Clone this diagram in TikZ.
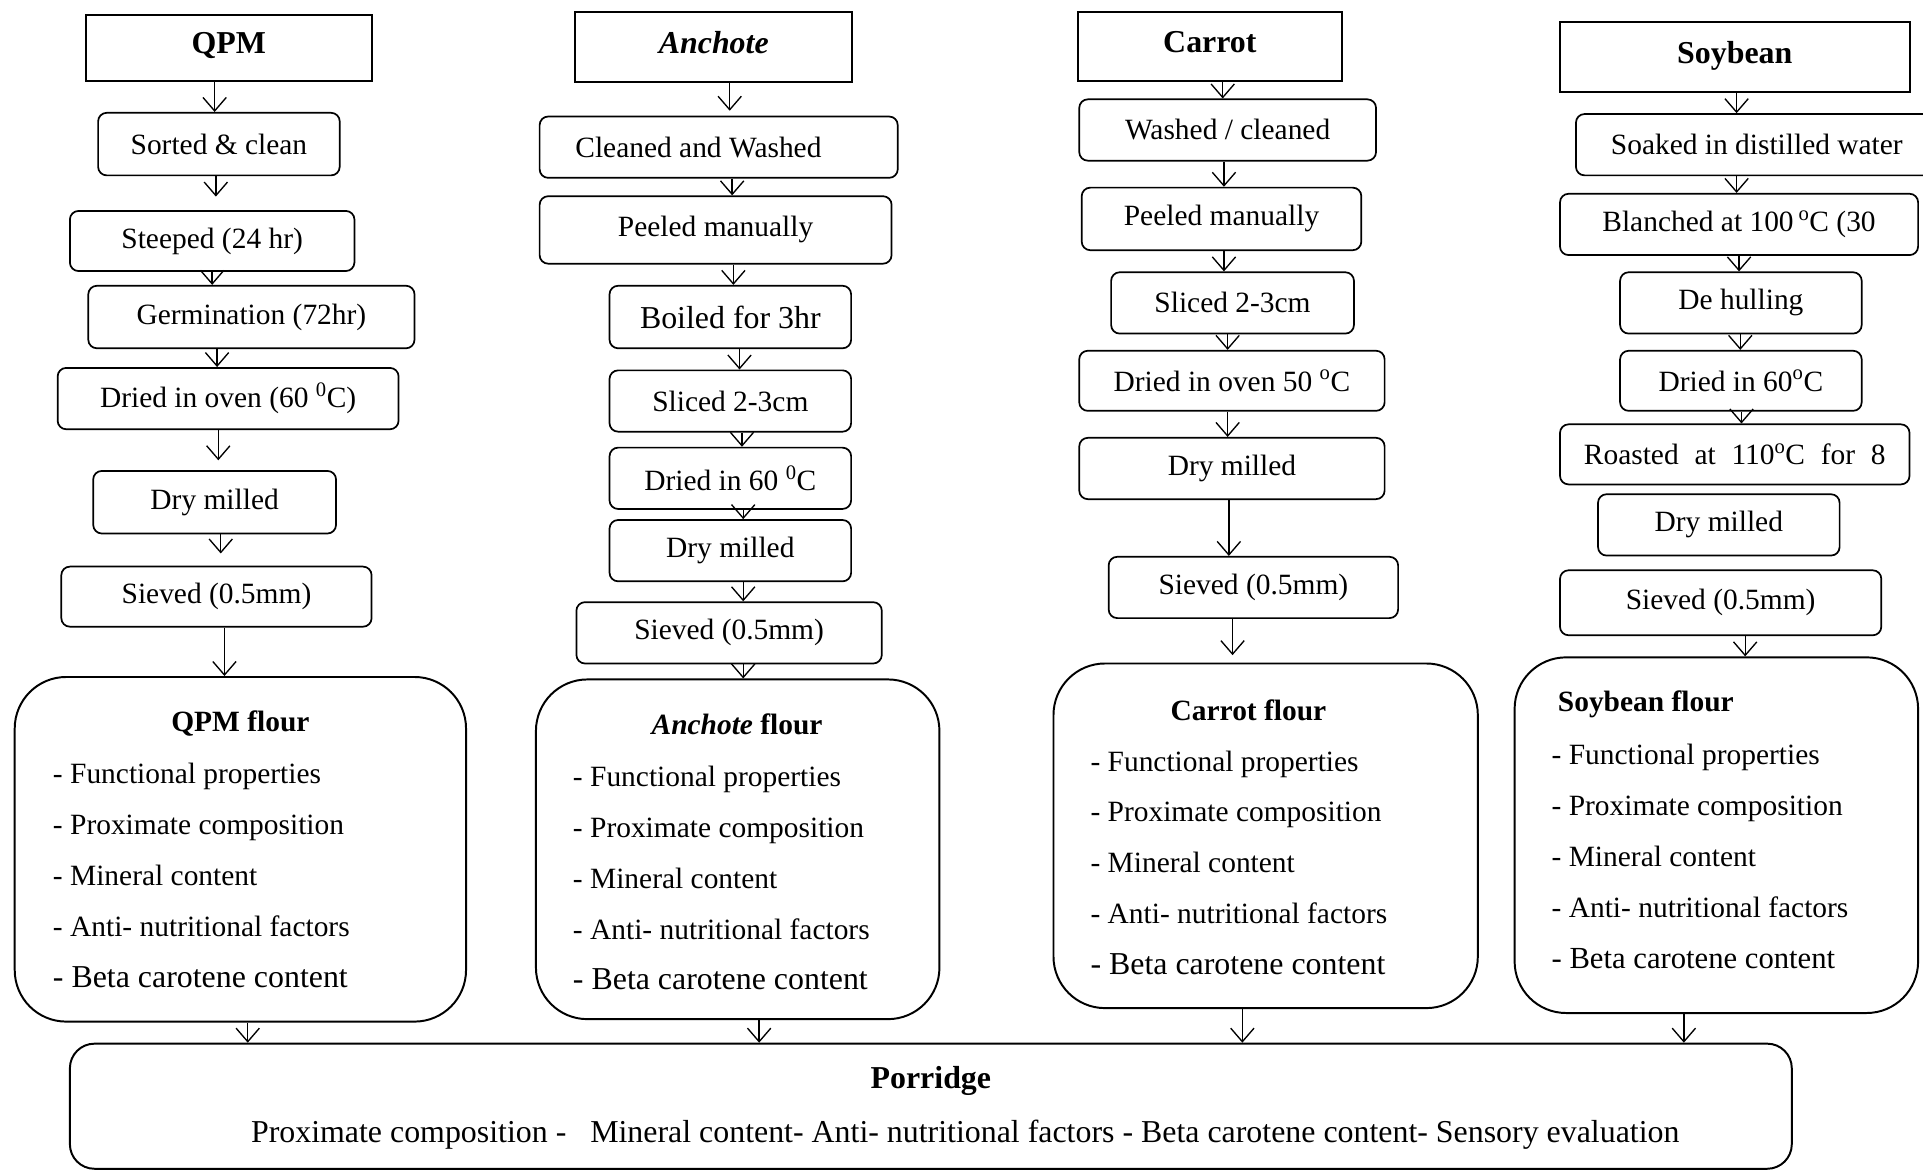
\documentclass[tikz,border=0pt]{standalone}
\usepackage{fontspec}
\setmainfont{Liberation Serif}
\usetikzlibrary{arrows.meta}

\begin{document}
\begin{tikzpicture}[x=1pt, y=-1pt,
    wh/.style 2 args={minimum width=#1pt, minimum height=#2pt},
    head/.style={draw, line width=1.6pt, inner sep=0pt, text height=18pt, text depth=8pt,
        font=\fontsize{26}{30}\selectfont\bfseries},
    proc/.style={draw, rounded corners=7pt, line width=1.4pt, inner sep=0pt, font=\fontsize{24}{28}\selectfont},
    flour/.style={draw, rounded corners=42pt, line width=1.6pt},
    ftitle/.style={inner sep=0pt, font=\fontsize{24}{28}\selectfont\bfseries},
    flist/.style={inner sep=0pt, anchor=west, align=left, font=\fontsize{24}{41.5}\selectfont},
    arr/.style={-{Straight Barb[length=11pt,width=19pt]}, line width=1.1pt}]
    \useasboundingbox (0,0) rectangle (1568,955);

    % QPM column
    \node[head, wh={233}{54}] (qpm) at (186.5,39) {QPM};
    \node[proc, wh={197}{51}] (qsc) at (178.5,117.5) {Sorted \& clean};
    \node[proc, wh={232}{49}] (qst) at (173,196.5) {Steeped (24 hr)};
    \node[proc, wh={266}{51}] (qge) at (205,258.5) {Germination (72hr)};
    \node[proc, wh={278}{50}] (qdr) at (186,325) {Dried in oven (60 \textsuperscript{0}C)};
    \node[proc, wh={198}{51}] (qdm) at (175,409.5) {Dry milled};
    \node[proc, wh={253}{49}] (qsv) at (176.5,486.5) {Sieved (0.5mm)};
    \node[flour, wh={368}{281}] (qf) at (196,692.5) {};
    \node[ftitle] (qft) at (196,590) {QPM flour};
    \node[flist] (qfl) at (43,714) {- Functional properties\\ - Proximate composition\\ - Mineral content\\
        - Anti- nutritional factors\\ {\fontsize{26}{41.5}\selectfont - Beta carotene content}};

    % Anchote column
    \node[head, wh={226}{57}, font=\fontsize{26}{30}\selectfont\bfseries\itshape] (anc) at (582,38.5) {Anchote};
    \node[proc, wh={292}{50}] (acw) at (586,120) {Cleaned and Washed\hspace*{33pt}};
    \node[proc, wh={287}{55}] (apm) at (583.5,187.5) {Peeled manually};
    \node[proc, wh={197}{51}, font=\fontsize{26}{30}\selectfont] (abo) at (595.5,258.5) {Boiled for 3hr};
    \node[proc, wh={197}{50}] (asl) at (595.5,327) {Sliced 2-3cm};
    \node[proc, wh={197}{50}] (adr) at (595.5,390) {Dried in 60 \textsuperscript{0}C};
    \node[proc, wh={197}{50}] (adm) at (595.5,449) {Dry milled};
    \node[proc, wh={249}{50}] (asv) at (594.5,516) {Sieved (0.5mm)};
    \node[flour, wh={329}{277}] (af) at (601.5,692.5) {};
    \node[ftitle] (aft) at (601,591) {\textit{Anchote} flour};
    \node[flist] (afl) at (467,716) {- Functional properties\\ - Proximate composition\\ - Mineral content\\
        - Anti- nutritional factors\\ {\fontsize{26}{41.5}\selectfont - Beta carotene content}};

    % Carrot column
    \node[head, wh={215}{56}] (car) at (986.5,38) {Carrot};
    \node[proc, wh={242}{50}] (cwc) at (1001,106) {Washed / cleaned};
    \node[proc, wh={228}{51}] (cpm) at (996,178.5) {Peeled manually};
    \node[proc, wh={198}{50}] (csl) at (1005,247) {Sliced 2-3cm};
    \node[proc, wh={249}{49}] (cdr) at (1004.5,310.5) {Dried in oven 50 \textsuperscript{o}C};
    \node[proc, wh={249}{50}] (cdm) at (1004.5,382) {Dry milled};
    \node[proc, wh={236}{50}] (csv) at (1022,479) {Sieved (0.5mm)};
    \node[flour, wh={346}{281}] (cf) at (1032,681.5) {};
    \node[ftitle] (cft) at (1018,579) {Carrot flour};
    \node[flist] (cfl) at (889,703.5) {- Functional properties\\ - Proximate composition\\ - Mineral content\\
        - Anti- nutritional factors\\ {\fontsize{26}{41.5}\selectfont - Beta carotene content}};

    % Soybean column
    \node[head, wh={285}{57}] (soy) at (1414.5,46.5) {Soybean};
    \node[proc, wh={295}{50}] (ssk) at (1432.5,118) {Soaked in distilled water};
    \node[proc, wh={292}{50}] (sbl) at (1418,183) {Blanched at 100\,\textsuperscript{o}C (30};
    \node[proc, wh={197}{50}] (sdh) at (1419.5,247) {De hulling};
    \node[proc, wh={197}{49}] (sdr) at (1419.5,310.5) {Dried in 60\textsuperscript{o}C};
    \node[proc, wh={285}{49}] (sro) at (1414.5,370.5) {\makebox[246pt][s]{Roasted at 110\textsuperscript{o}C for 8}};
    \node[proc, wh={197}{50}] (sdm) at (1401.5,428) {Dry milled};
    \node[proc, wh={262}{53}] (ssv) at (1403,491.5) {Sieved (0.5mm)};
    \node[flour, wh={329}{290}] (sf) at (1399.5,681) {};
    \node[ftitle] (sft) at (1342,574) {Soybean flour};
    \node[flist] (sfl) at (1265,698.5) {- Functional properties\\ - Proximate composition\\ - Mineral content\\
        - Anti- nutritional factors\\ {\fontsize{25}{41.5}\selectfont - Beta carotene content}};

    % Porridge
    \node[draw, rounded corners=20pt, line width=1.6pt, wh={1404}{102}] (por) at (759,902) {};
    \node[ftitle, font=\fontsize{26}{30}\selectfont\bfseries] (pot) at (759,881) {Porridge};
    \node[inner sep=0pt, font=\fontsize{26}{30}\selectfont] (pol) at (787,925)
        {Proximate composition -~~~Mineral content- Anti- nutritional factors - Beta carotene content- Sensory evaluation};

    % Arrows
    \foreach \a/\b/\x/\g in {qpm/qsc/175/0, qsc/qst/176/11, qst/qge/173/0, qge/qdr/177/0,
        qdr/qdm/178/8, qdm/qsv/180/10, qsv/qf/183/0, qf/por/202/0,
        anc/acw/595/4, acw/apm/597/0, apm/abo/598/0, abo/asl/603/0, asl/adr/605/0,
        adr/adm/606/0, adm/asv/606/0, asv/af/606/0, af/por/619/0,
        car/cwc/997/0, cwc/cpm/998/0, cpm/csl/998/0, csl/cdr/1001/0, cdr/cdm/1001/0,
        cdm/csv/1002/0, csv/cf/1005/6, cf/por/1013/0,
        soy/ssk/1416/0, ssk/sbl/1416/0, sbl/sdh/1418/0, sdh/sdr/1419/0, sdr/sro/1420/0,
        ssv/sf/1423/0, sf/por/1373/0}
      \draw[arr, shorten >=\g pt] (\a.south -| \x,0) -- (\b.north -| \x,0);
\end{tikzpicture}
\end{document}
